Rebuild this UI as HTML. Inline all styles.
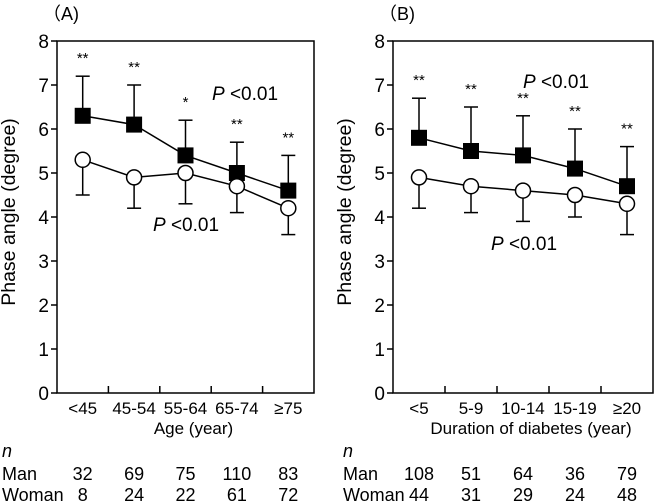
<!DOCTYPE html>
<html><head><meta charset="utf-8"><style>
html,body{margin:0;padding:0;background:#fff}
svg{display:block;font-family:"Liberation Sans",Arial,sans-serif}
</style></head><body>
<svg id="fig" width="657" height="502" viewBox="0 0 657 502"></svg>
<script>
const ticksY = [0,1,2,3,4,5,6,7,8];
const catsA = ["<45","45-54","55-64","65-74","\u226575"];
const manA = [6.3,6.1,5.4,5.0,4.6];
const manUpA = [7.2,7.0,6.2,5.7,5.4];
const womanA = [5.3,4.9,5.0,4.7,4.2];
const womanLoA = [4.5,4.2,4.3,4.1,3.6];
const starsA = ["**","**","*","**","**"];
const nManA = [32,69,75,110,83];
const nWomanA = [8,24,22,61,72];
const catsB = ["<5","5-9","10-14","15-19","\u226520"];
const manB = [5.8,5.5,5.4,5.1,4.7];
const manUpB = [6.7,6.5,6.3,6.0,5.6];
const womanB = [4.9,4.7,4.6,4.5,4.3];
const womanLoB = [4.2,4.1,3.9,4.0,3.6];
const starsB = ["**","**","**","**","**"];
const nManB = [108,51,64,36,79];
const nWomanB = [44,31,29,24,48];

const NS="http://www.w3.org/2000/svg";
const svg=document.getElementById('fig');
function mk(tag,attrs,parent,text){const e=document.createElementNS(NS,tag);for(const k in attrs)e.setAttribute(k,attrs[k]);if(text!==undefined)e.textContent=text;(parent||svg).appendChild(e);return e;}

function panel(o){
  const g=mk('g',{});
  
  
  const L=o.left,R=o.right,T=41,B=393;
  const y=v=>B-(v/8)*(B-T);
  const step=(R-L)/5;
  const x=i=>L+step*(i+0.5);
  const lbl=mk('text',{x:o.left-14,y:20,'font-size':18},g,'\uFF08'+o.id+')');
  
  
  const box=mk('rect',{x:L,y:T,width:R-L,height:B-T,fill:'none',stroke:'#000','stroke-width':1.5},g);
  
  
  ticksY.forEach(t=>{
    mk('line',{x1:L-6,x2:L,y1:y(t),y2:y(t),stroke:'#000','stroke-width':1.5},g);
    const tl=mk('text',{x:L-8,y:y(t)+7,'font-size':19,'text-anchor':'end'},g,String(t));
    
    
  });
  for(let i=1;i<5;i++) mk('line',{x1:L+step*i,x2:L+step*i,y1:B,y2:B-7,stroke:'#000','stroke-width':1.5},g);
  const yt=mk('text',{transform:`translate(${L-42},212) rotate(-90)`,'font-size':19.5,'text-anchor':'middle'},g,'Phase angle (degree)');
  
  
  o.cats.forEach((c,i)=>{
    const t=mk('text',{x:x(i),y:414,'font-size':17,'text-anchor':'middle'},g,c);
    
    
  });
  const xt=mk('text',{x:(L+R)/2+8,y:434,'font-size':17,'text-anchor':'middle'},g,o.xtitle);
  
  
  o.man.forEach((v,i)=>{
    mk('line',{x1:x(i),x2:x(i),y1:y(v),y2:y(o.manUp[i]),stroke:'#000','stroke-width':1.5},g);
    mk('line',{x1:x(i)-7,x2:x(i)+7,y1:y(o.manUp[i]),y2:y(o.manUp[i]),stroke:'#000','stroke-width':1.5},g);
    const s=mk('text',{x:x(i),y:y(o.manUp[i])-13,'font-size':15,'text-anchor':'middle'},g,o.stars[i]);
    
    
  });
  o.woman.forEach((v,i)=>{
    mk('line',{x1:x(i),x2:x(i),y1:y(v),y2:y(o.womanLo[i]),stroke:'#000','stroke-width':1.5},g);
    mk('line',{x1:x(i)-7,x2:x(i)+7,y1:y(o.womanLo[i]),y2:y(o.womanLo[i]),stroke:'#000','stroke-width':1.5},g);
  });
  const lm=mk('polyline',{points:o.man.map((v,i)=>x(i)+','+y(v)).join(' '),fill:'none',stroke:'#000','stroke-width':1.5},g);
  
  
  const lw=mk('polyline',{points:o.woman.map((v,i)=>x(i)+','+y(v)).join(' '),fill:'none',stroke:'#000','stroke-width':1.5},g);
  
  
  o.man.forEach((v,i)=>{
    const r=mk('rect',{x:x(i)-8,y:y(v)-8,width:16,height:16,fill:'#000'},g);
    
    
  });
  o.woman.forEach((v,i)=>{
    const c=mk('circle',{cx:x(i),cy:y(v),r:7.5,fill:'#fff',stroke:'#000','stroke-width':1.5},g);
    
    
  });
  o.ptext.forEach(p=>{
    const t=mk('text',{x:p[0],y:p[1],'font-size':19},g);
    
    
    mk('tspan',{'font-style':'italic'},t,'P');
    mk('tspan',{},t,' <0.01');
  });
  const n=mk('text',{x:o.tableX,y:457,'font-size':18,'font-style':'italic'},g,'n');
  
  
  const m=mk('text',{x:o.tableX,y:480,'font-size':18},g,'Man');
  
  
  const w=mk('text',{x:o.tableX,y:501,'font-size':18},g,'Woman');
  
  
  o.nMan.forEach((v,i)=>{
    const t=mk('text',{x:x(i),y:480,'font-size':18,'text-anchor':'middle'},g,String(v));
    
    
  });
  o.nWoman.forEach((v,i)=>{
    const t=mk('text',{x:x(i),y:501,'font-size':18,'text-anchor':'middle'},g,String(v));
    
    
  });
}
panel({id:'A',left:57,right:314,cats:catsA,man:manA,manUp:manUpA,woman:womanA,womanLo:womanLoA,stars:starsA,nMan:nManA,nWoman:nWomanA,xtitle:'Age (year)',ptext:[[212,100],[153,231]],tableX:2});
panel({id:'B',left:393,right:653,cats:catsB,man:manB,manUp:manUpB,woman:womanB,womanLo:womanLoB,stars:starsB,nMan:nManB,nWoman:nWomanB,xtitle:'Duration of diabetes (year)',ptext:[[523,88],[491,250]],tableX:343});
</script>
</body></html>
